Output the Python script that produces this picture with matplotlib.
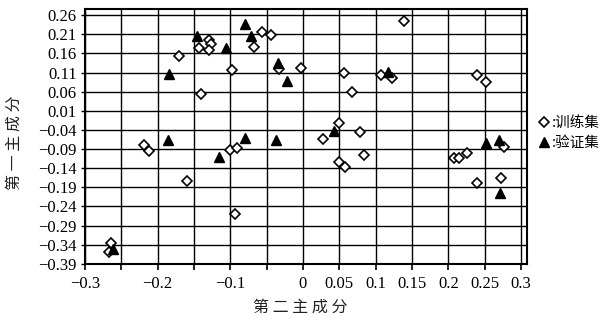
################################################################################
#   PCA scatter: training set vs. validation set (first two components)       #
################################################################################

import matplotlib.pyplot as plt
import numpy as np

################################################################################
#                                    DATA                                      #
################################################################################

# Training samples (hollow diamonds)
train_x = [-0.264, -0.267, -0.219, -0.212, -0.170, -0.141, -0.159,
           -0.143, -0.130, -0.126, -0.129, -0.098, -0.100, -0.091, -0.094,
           -0.068, -0.057, -0.044, -0.033, -0.003, 0.028,
           0.049, 0.057, 0.068, 0.078, 0.084, 0.049, 0.058,
           0.139, 0.107, 0.123, 0.239, 0.252,
           0.208, 0.215, 0.226, 0.277, 0.239, 0.273]
train_y = [-0.336, -0.358, -0.080, -0.094, 0.152, 0.054, -0.174,
           0.175, 0.195, 0.184, 0.170, 0.117, -0.093, -0.086, -0.259,
           0.177, 0.215, 0.208, 0.119, 0.121, -0.064,
           -0.022, 0.108, 0.060, -0.045, -0.106, -0.123, -0.136,
           0.245, 0.103, 0.097, 0.103, 0.086,
           -0.112, -0.112, -0.101, -0.084, -0.178, -0.166]

# Validation samples (filled triangles)
valid_x = [-0.261, -0.184, -0.186, -0.146, -0.106, -0.115,
           -0.080, -0.072, -0.080, -0.034, -0.022, -0.037,
           0.043, 0.117, 0.252, 0.270, 0.271]
valid_y = [-0.352, 0.105, -0.065, 0.205, 0.175, -0.111,
           0.237, 0.206, -0.061, 0.134, 0.088, -0.065,
           -0.044, 0.111, -0.075, -0.066, -0.204]

x_ticks = [-0.3, -0.25, -0.2, -0.15, -0.1, -0.05, 0, 0.05, 0.1, 0.15, 0.2, 0.25, 0.3]
x_tick_labels = ["\u22120.3", "", "\u22120.2", "", "\u22120.1", "", "0",
                 "0.05", "0.1", "0.15", "0.2", "0.25", "0.3"]
y_ticks = [0.26, 0.21, 0.16, 0.11, 0.06, 0.01, -0.04, -0.09, -0.14,
           -0.19, -0.24, -0.29, -0.34, -0.39]

################################################################################
#                                    PLOT                                      #
################################################################################

num_font = "Liberation Serif"
cjk_font = ["Noto Sans CJK SC", "DejaVu Sans"]

fig = plt.figure(figsize=(6.07, 3.25), dpi=100)
ax = fig.add_axes([0.140, 0.188, 0.729, 0.783])

ax.plot(train_x, train_y, linestyle="none", marker="D", markersize=5,
        markerfacecolor="white", markeredgecolor="black", markeredgewidth=1.2,
        label=":训练集", zorder=3)
ax.plot(valid_x, valid_y, linestyle="none", marker="^", markersize=7.5,
        color="black", label=":验证集", zorder=4)

ax.set_xlim(-0.3, 0.309)
ax.set_ylim(-0.39, 0.275)

ax.set_xticks(x_ticks)
ax.set_xticklabels(x_tick_labels, fontfamily=num_font, fontsize=12)
ax.set_yticks(y_ticks)
ax.set_yticklabels(["{:.2f}".format(v).replace("-", "\u2212") for v in y_ticks],
                   fontfamily=num_font, fontsize=12)
ax.tick_params(axis="x", direction="out", length=4, width=1.2, pad=5)
ax.tick_params(axis="y", direction="out", length=3, width=1.0, pad=3)

ax.grid(True, color="black", linewidth=1.0)
ax.set_axisbelow(True)
for spine in ax.spines.values():
    spine.set_linewidth(1.5)

# Axis titles are letter-spaced in the original
ax.set_xlabel("第 二 主 成 分", fontfamily=cjk_font, fontsize=11.5, color="#222222")
ax.xaxis.set_label_coords(0.486, -0.137)
ax.set_ylabel("第 一 主 成 分", fontfamily=cjk_font, fontsize=11.5, color="#222222")
ax.yaxis.set_label_coords(-0.140, 0.476)

ax.legend(loc="center left", bbox_to_anchor=(1.012, 0.514), frameon=False,
          prop={"family": cjk_font, "size": 10.5}, handlelength=0.8,
          handletextpad=0.1, labelspacing=0.4, borderaxespad=0.0)

fig.savefig("out.png", dpi=100)
